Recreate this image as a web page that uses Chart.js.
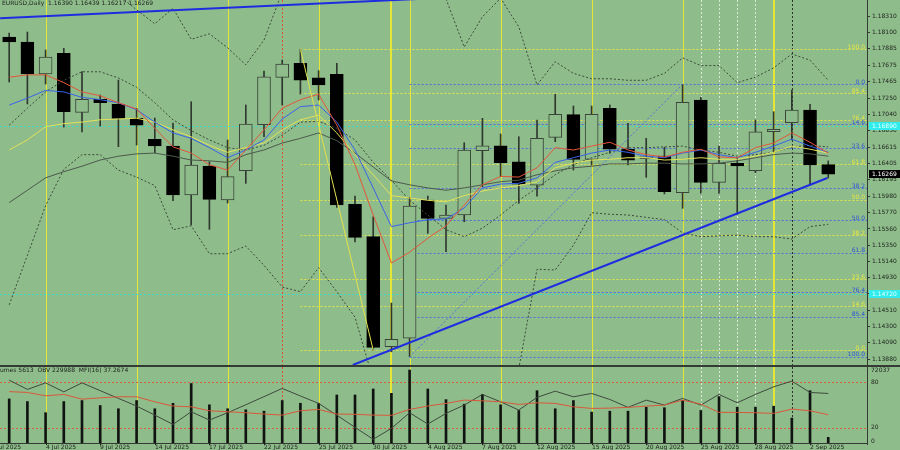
<!DOCTYPE html>
<html>
<head>
<meta charset="utf-8">
<script src="https://cdn.jsdelivr.net/npm/chart.js@4.4.1/dist/chart.umd.min.js"></script>
<style>
  html, body { margin: 0; padding: 0; background: #8fbc8b; overflow: hidden; }
  #wrap { position: relative; width: 900px; height: 450px; }
  #priceBox { position: absolute; left: 0; top: 0; width: 900px; height: 366px; }
  #volBox { position: absolute; left: 0; top: 366px; width: 900px; height: 84px; }
</style>
</head>
<body>
<div id="wrap">
  <div id="priceBox"><canvas id="priceChart"></canvas></div>
  <div id="volBox"><canvas id="volChart"></canvas></div>
</div>
<script>
// ==========================
// DATA (EURUSD daily, 2 Jul - 3 Sep 2025, one entry per bar)
// ==========================
const opens  = [1.18039,1.17974,1.17561,1.17828,1.17066,1.17234,1.17170,1.16989,1.16718,1.16631,1.15998,1.16373,1.15934,1.16312,1.16906,1.17518,1.17699,1.17513,1.17557,1.15878,1.15460,1.14039,1.14148,1.15934,1.15697,1.15740,1.16570,1.16635,1.16428,1.16127,1.16743,1.17036,1.16459,1.17118,1.16589,1.16467,1.16502,1.16028,1.17225,1.16162,1.16408,1.16312,1.16816,1.16932,1.17096,1.16390];
const highs  = [1.18090,1.18103,1.17871,1.17893,1.17591,1.17290,1.17483,1.17118,1.16993,1.16928,1.17203,1.16428,1.16709,1.17161,1.17600,1.17742,1.17880,1.17604,1.17699,1.15985,1.15718,1.14603,1.15969,1.15985,1.15869,1.16674,1.16989,1.16786,1.16751,1.16967,1.17299,1.17148,1.17148,1.17161,1.16925,1.16731,1.16615,1.17428,1.17260,1.16631,1.16473,1.16967,1.17074,1.17355,1.17170,1.16439];
const lows   = [1.17458,1.17174,1.17432,1.16876,1.16812,1.16889,1.16622,1.16644,1.16541,1.15925,1.15611,1.15555,1.15895,1.16149,1.16751,1.17161,1.17303,1.17226,1.15839,1.15391,1.13996,1.13974,1.13910,1.15504,1.15266,1.15653,1.16105,1.16235,1.15891,1.15985,1.16687,1.16321,1.16386,1.16537,1.16386,1.16227,1.16012,1.15827,1.16020,1.16020,1.15749,1.16286,1.16554,1.16709,1.16127,1.16217];
const closes = [1.17974,1.17561,1.17781,1.17074,1.17234,1.17190,1.16989,1.16902,1.16631,1.15998,1.16386,1.15943,1.16235,1.16915,1.17526,1.17690,1.17483,1.17419,1.15869,1.15452,1.14031,1.14135,1.15856,1.15697,1.15740,1.16579,1.16635,1.16415,1.16140,1.16731,1.17040,1.16459,1.17040,1.16589,1.16450,1.16493,1.16041,1.17195,1.16162,1.16408,1.16373,1.16816,1.16847,1.17096,1.16386,1.16269];

// moving averages
const maRed    = [1.1752,1.1755,1.1755,1.1745,1.1733,1.1728,1.1719,1.1711,1.1686,1.1662,1.1654,1.1639,1.1632,1.1658,1.1684,1.1712,1.1723,1.1730,1.1690,1.1639,1.1574,1.1512,1.1526,1.1544,1.1560,1.1587,1.1613,1.1624,1.1623,1.1635,1.1661,1.1658,1.1663,1.1668,1.1658,1.1652,1.1649,1.1655,1.1659,1.1649,1.1648,1.1661,1.1667,1.1680,1.1668,1.1654];
const maBlue   = [1.1716,1.1725,1.1735,1.1733,1.1726,1.1723,1.1719,1.1710,1.1694,1.1680,1.1673,1.1661,1.1648,1.1658,1.1671,1.1698,1.1714,1.1716,1.1694,1.1658,1.1609,1.1559,1.1564,1.1568,1.1569,1.1583,1.1609,1.1614,1.1615,1.1622,1.1642,1.1648,1.1654,1.1658,1.1655,1.1650,1.1648,1.1654,1.1658,1.1652,1.1648,1.1655,1.1663,1.1672,1.1663,1.1655];
const maYellow = [1.1658,1.1671,1.1688,1.1692,1.1694,1.1697,1.1698,1.1699,1.1694,1.1684,1.1675,1.1664,1.1655,1.1661,1.1667,1.1684,1.1697,1.1703,1.1680,1.1652,1.1626,1.1599,1.1596,1.1593,1.1591,1.1599,1.1605,1.1609,1.1612,1.1617,1.1635,1.1641,1.1645,1.1646,1.1648,1.1648,1.1645,1.1646,1.1648,1.1646,1.1646,1.1650,1.1655,1.1663,1.1659,1.1654];
const maGray   = [1.1590,1.1606,1.1622,1.1630,1.1637,1.1645,1.1650,1.1653,1.1654,1.1650,1.1645,1.1644,1.1642,1.1652,1.1658,1.1667,1.1673,1.1680,1.1670,1.1654,1.1636,1.1618,1.1613,1.1609,1.1606,1.1609,1.1613,1.1617,1.1619,1.1626,1.1631,1.1635,1.1637,1.1640,1.1640,1.1641,1.1641,1.1640,1.1640,1.1641,1.1644,1.1648,1.1652,1.1654,1.1653,1.1650];

// bands (dotted)
const bandUpper  = [1.1890,1.1884,1.1878,1.1871,1.1867,1.1865,1.1858,1.1839,1.1821,1.1841,1.1801,1.1808,1.1790,1.1768,1.1800,1.1862,1.1884,1.1897,1.1903,1.1897,1.1890,1.1878,1.1867,1.1859,1.1853,1.1791,1.1830,1.1854,1.1817,1.1742,1.1772,1.1757,1.1750,1.1750,1.1748,1.1748,1.1757,1.1777,1.1767,1.1767,1.1745,1.1752,1.1764,1.1782,1.1774,1.1748];
const bandMiddle = [1.1690,1.1712,1.1733,1.1748,1.1759,1.1759,1.1751,1.1739,1.1719,1.1697,1.1683,1.1671,1.1661,1.1658,1.1664,1.1677,1.1694,1.1695,1.1686,1.1671,1.1642,1.1619,1.1593,1.1574,1.1555,1.1546,1.1557,1.1574,1.1593,1.1609,1.1626,1.1639,1.1648,1.1655,1.1661,1.1661,1.1662,1.1663,1.1658,1.1655,1.1650,1.1652,1.1655,1.1662,1.1664,1.1662];
const bandLower  = [1.1458,1.1522,1.1586,1.1633,1.1652,1.1652,1.1632,1.1623,1.1612,1.1555,1.1560,1.1524,1.1524,1.1534,1.1509,1.1481,1.1475,1.1506,1.1475,1.1442,1.1361,1.1342,1.1329,1.1322,1.1329,1.1348,1.1354,1.1361,1.1376,1.1504,1.1503,1.1535,1.1577,1.1575,1.1574,1.1571,1.1568,1.1551,1.1546,1.1547,1.1548,1.1546,1.1546,1.1543,1.1559,1.1562];

// lower panel
const volumes   = [43500,40900,29900,40900,41900,37000,33800,41900,33800,39200,58700,37700,33800,32800,31400,41900,39200,39200,47400,47400,53300,49000,72037,53300,42800,38300,48000,37700,32100,51600,33800,41900,30500,31400,31400,35300,34800,41900,32100,45800,35300,35300,36300,24600,51600,5613];
const mfiValues = [67.6,66.5,62.1,63.9,57.7,59.4,60.8,60.8,54.2,48.6,47.6,42.4,41.1,39.8,38.1,36.7,42.4,44.2,38.1,37.7,36.7,36.4,44.2,48.6,52.1,56.4,55.5,54.2,50.8,52.9,52.1,47.6,45.5,45.9,46.9,48.6,49.9,56.4,51.2,40.3,40.3,39.8,39.0,44.6,42.4,37.27];
// OBV as drawn, read as % of the panel height
const obvValues = [82.7,70.5,79.1,67.3,79.1,68.9,58.7,48.6,36.7,24.5,41.1,30.2,39.8,50.3,61.0,71.8,61.9,52.1,36.6,20.6,4.9,19.3,39.8,24.9,39.0,49.9,63.9,54.2,43.3,60.0,68.2,60.8,65.2,57.3,46.9,56.4,49.9,58.7,49.9,63.9,52.9,63.9,73.9,81.4,66.5,65.2];

// axis labels
const priceTicks = [1.18310,1.18100,1.17885,1.17675,1.17465,1.17250,1.17040,1.16830,1.16615,1.16405,1.16195,1.15980,1.15770,1.15560,1.15350,1.15140,1.14930,1.14720,1.14510,1.14300,1.14090,1.13880];
const dateTickIdx = [-1,2,5,8,11,14,17,20,23,26,29,32,35,38,41,44];
const dateLabels = ["1 Jul 2025","4 Jul 2025","9 Jul 2025","14 Jul 2025","17 Jul 2025","22 Jul 2025","25 Jul 2025","30 Jul 2025","4 Aug 2025","7 Aug 2025","12 Aug 2025","15 Aug 2025","20 Aug 2025","25 Aug 2025","28 Aug 2025","2 Sep 2025"];

// drawing objects
const fibLevels = [0,14.6,23.6,38.2,50,61.8,76.4,85.4,100];
const yellowFib = { start: 16, end: 20, high: 1.17880, low: 1.13996 };   // 0 at low
const blueFib   = { start: 22, end: 37, high: 1.17430, low: 1.13910 };   // 0 at high
const cyanLevels = [1.16890, 1.14720];
const supportLine = [[18.88, 1.13803], [44.95, 1.16218]];
const upperLine   = [[-0.5, 1.18281], [25, 1.18558]];
const yellowDays = [2,7,12,17,22,27,32,37];
const boldYellowDays = [21,42];
const redDay = 15;
const whiteDays = [38,39,40,41];
const blackDay = 43;

// ==========================
// STYLE / LAYOUT
// ==========================
const BG = "#8fbc8b";
const TXT = "#1c221c";
const FONT = '6px "DejaVu Sans"';
const X_MIN = -0.505, X_MAX = 47.13;
const Y_MIN = 1.13803, Y_MAX = 1.18517;

const pts = (arr) => arr.map((v, i) => ({ x: i, y: v }));
const seg = (a) => a.map((p) => ({ x: p[0], y: p[1] }));
const isBull = (i) => closes[i] >= opens[i];

function drawVerticals(ctx, x, top, bottom) {
  const line = (i, color, w, dash) => {
    const px = Math.round(x.getPixelForValue(i)) + (w % 2 ? 0.5 : 0);
    ctx.strokeStyle = color;
    ctx.lineWidth = w;
    ctx.setLineDash(dash);
    ctx.beginPath();
    ctx.moveTo(px, top);
    ctx.lineTo(px, bottom);
    ctx.stroke();
  };
  yellowDays.forEach((i) => line(i, "#e6e636", 1, []));
  boldYellowDays.forEach((i) => line(i, "#e6e636", 2, []));
  line(redDay, "#e0502a", 1, [2, 2]);
  whiteDays.forEach((i) => line(i, "#dbe9d6", 1, [2, 2]));
  line(blackDay, "#2c342c", 1, [2, 2]);
  ctx.setLineDash([]);
}

function hLine(ctx, x0, x1, py, color) {
  const yy = Math.round(py) + 0.5;
  ctx.strokeStyle = color;
  ctx.lineWidth = 1;
  ctx.setLineDash([2, 2]);
  ctx.beginPath();
  ctx.moveTo(x0, yy);
  ctx.lineTo(x1, yy);
  ctx.stroke();
  ctx.setLineDash([]);
}

const yellowFibPrice = (l) => yellowFib.low + (yellowFib.high - yellowFib.low) * l / 100;
const blueFibPrice = (l) => blueFib.high - (blueFib.high - blueFib.low) * l / 100;

// ==========================
// PRICE PANEL PLUGIN
// ==========================
const priceMarks = {
  id: "priceMarks",
  beforeDatasetsDraw(chart) {
    const { ctx, chartArea: a, scales: { x, y } } = chart;
    ctx.save();
    ctx.beginPath();
    ctx.rect(a.left, a.top, a.right - a.left, a.bottom - a.top);
    ctx.clip();
    drawVerticals(ctx, x, a.top, a.bottom);
    cyanLevels.forEach((p) => hLine(ctx, a.left, a.right, y.getPixelForValue(p), "#3fd9cc"));
    fibLevels.forEach((l) => {
      hLine(ctx, x.getPixelForValue(yellowFib.start), a.right, y.getPixelForValue(yellowFibPrice(l)), "#e3e34c");
      hLine(ctx, x.getPixelForValue(blueFib.start), a.right, y.getPixelForValue(blueFibPrice(l)), "#4f6fdc");
    });
    ctx.restore();
  },
  afterDatasetsDraw(chart) {
    const { ctx, chartArea: a, scales: { y } } = chart;
    ctx.save();
    ctx.font = FONT;
    ctx.textAlign = "right";
    ctx.textBaseline = "middle";
    fibLevels.forEach((l) => {
      ctx.fillStyle = "#e8e840";
      ctx.fillText(l.toFixed(1), a.right - 2, y.getPixelForValue(yellowFibPrice(l)) - 2);
      ctx.fillStyle = "#2f52d6";
      ctx.fillText(l.toFixed(1), a.right - 2, y.getPixelForValue(blueFibPrice(l)) - 2);
    });
    ctx.textAlign = "left";
    ctx.fillStyle = TXT;
    ctx.fillText("EURUSD,Daily  1.16390 1.16439 1.16217 1.16269", 2, 3);
    ctx.restore();
  },
  afterDraw(chart) {
    const { ctx, chartArea: a, scales: { y } } = chart;
    ctx.save();
    ctx.font = FONT;
    ctx.textBaseline = "middle";
    ctx.textAlign = "left";
    const box = (price, fill, color) => {
      const py = y.getPixelForValue(price);
      ctx.fillStyle = fill;
      ctx.fillRect(a.right + 2, Math.round(py) - 4, 33, 8);
      ctx.fillStyle = color;
      ctx.fillText(price.toFixed(5), a.right + 5, py);
    };
    cyanLevels.forEach((p) => box(p, "#30ecec", "#e8ffff"));
    box(closes[closes.length - 1], "#000000", "#ffffff");
    ctx.fillStyle = "#343a34";
    ctx.fillRect(0, 365, 900, 1);
    ctx.restore();
  },
};

// ==========================
// PRICE CHART
// ==========================
const lineSet = (data, color, extra) =>
  Object.assign({ type: "line", data: pts(data), borderColor: color, borderWidth: 1, pointRadius: 0, tension: 0, order: 2 }, extra || {});

new Chart(document.getElementById("priceChart"), {
  type: "bar",
  data: {
    datasets: [
      // trend lines
      { type: "line", data: seg(supportLine), borderColor: "#1e2de0", borderWidth: 2, pointRadius: 0, order: 0 },
      { type: "line", data: seg(upperLine), borderColor: "#1e2de0", borderWidth: 2, pointRadius: 0, order: 0 },
      { type: "line", data: [{ x: yellowFib.start, y: yellowFib.high }, { x: yellowFib.end, y: yellowFib.low }], borderColor: "#e3e34c", borderWidth: 1, pointRadius: 0, order: 0 },
      { type: "line", data: [{ x: blueFib.start, y: blueFib.low }, { x: blueFib.end, y: blueFib.high }], borderColor: "#4f6fdc", borderWidth: 1, borderDash: [2, 2], pointRadius: 0, order: 0 },
      // moving averages
      lineSet(maRed, "#e4553a"),
      lineSet(maBlue, "#3a62e8"),
      lineSet(maYellow, "#e2e25a"),
      lineSet(maGray, "#4c5a4c"),
      // bands
      lineSet(bandUpper, "#3c4a3c", { borderDash: [2, 2], order: 3 }),
      lineSet(bandMiddle, "#3c4a3c", { borderDash: [2, 2], order: 3 }),
      lineSet(bandLower, "#3c4a3c", { borderDash: [2, 2], order: 3 }),
      // candle bodies
      {
        type: "bar",
        data: opens.map((o, i) => ({ x: i, y: [o, closes[i]] })),
        backgroundColor: opens.map((o, i) => (isBull(i) ? BG : "#000000")),
        borderColor: opens.map((o, i) => (isBull(i) ? "#3a443a" : "#000000")),
        borderWidth: 1,
        borderSkipped: false,
        barThickness: 13,
        grouped: false,
        order: 4,
      },
      // wicks
      {
        type: "bar",
        data: lows.map((l, i) => ({ x: i, y: [l, highs[i]] })),
        backgroundColor: "#2f382f",
        barThickness: 1,
        grouped: false,
        order: 5,
      },
    ],
  },
  options: {
    responsive: true,
    maintainAspectRatio: false,
    animation: false,
    events: [],
    layout: { padding: { top: 0, bottom: 1, left: 0, right: 0 } },
    plugins: { legend: { display: false }, tooltip: { enabled: false } },
    scales: {
      x: { type: "linear", min: X_MIN, max: X_MAX, display: false, offset: false },
      y: {
        type: "linear",
        position: "right",
        min: Y_MIN,
        max: Y_MAX,
        afterBuildTicks: (s) => { s.ticks = priceTicks.map((v) => ({ value: v })); },
        afterFit: (s) => { s.width = 33; s.paddingTop = 0; s.paddingBottom = 0; },
        ticks: {
          autoSkip: false,
          padding: 2,
          color: TXT,
          font: { family: "DejaVu Sans", size: 6 },
          callback: (v) => Number(v).toFixed(5),
        },
        grid: { display: true, drawOnChartArea: false, tickLength: 3, color: "#343a34" },
        border: { display: true, color: "#343a34" },
      },
    },
  },
  plugins: [priceMarks],
});

// ==========================
// VOLUME / MFI / OBV PANEL
// ==========================
const lowerMarks = {
  id: "lowerMarks",
  beforeDatasetsDraw(chart) {
    const { ctx, chartArea: a, scales: { x, mfi } } = chart;
    ctx.save();
    ctx.beginPath();
    ctx.rect(a.left, a.top, a.right - a.left, a.bottom - a.top);
    ctx.clip();
    drawVerticals(ctx, x, a.top, a.bottom);
    [80, 20].forEach((v) => hLine(ctx, a.left, a.right, mfi.getPixelForValue(v), "#d8603e"));
    ctx.restore();
  },
  afterDraw(chart) {
    const { ctx, chartArea: a, scales: { x, mfi, vol } } = chart;
    ctx.save();
    ctx.fillStyle = "#343a34";
    ctx.fillRect(0, 0, 900, 1);
    ctx.fillRect(Math.round(a.right), 0, 1, a.bottom + 2);
    ctx.fillRect(0, Math.round(a.bottom), a.right, 1);
    ctx.font = FONT;
    ctx.fillStyle = TXT;
    ctx.textBaseline = "middle";
    ctx.textAlign = "left";
    ctx.fillText("Volumes 5613  OBV 229988  MFI(16) 37.2674", -9, 4);
    ctx.fillText("72037", a.right + 4, vol.getPixelForValue(72037));
    ctx.fillText("80", a.right + 4, mfi.getPixelForValue(80));
    ctx.fillText("20", a.right + 4, mfi.getPixelForValue(20));
    ctx.fillText("0", a.right + 4, mfi.getPixelForValue(0) - 2);
    ctx.textBaseline = "top";
    dateTickIdx.forEach((idx, k) => {
      const px = Math.round(x.getPixelForValue(idx));
      ctx.fillRect(px, a.bottom, 1, 2);
      ctx.fillText(dateLabels[k], px, a.bottom + 1);
    });
    ctx.restore();
  },
};

new Chart(document.getElementById("volChart"), {
  type: "bar",
  data: {
    datasets: [
      { type: "line", data: pts(mfiValues), yAxisID: "mfi", borderColor: "#d9583a", borderWidth: 1, pointRadius: 0, order: 0 },
      { type: "line", data: pts(obvValues), yAxisID: "mfi", borderColor: "#3e4a3e", borderWidth: 1, pointRadius: 0, order: 1 },
      { type: "bar", data: pts(volumes), yAxisID: "vol", backgroundColor: "#101410", barThickness: 2, grouped: false, order: 2 },
    ],
  },
  options: {
    responsive: true,
    maintainAspectRatio: false,
    animation: false,
    events: [],
    layout: { padding: { top: 1, bottom: 7, left: 0, right: 33 } },
    plugins: { legend: { display: false }, tooltip: { enabled: false } },
    scales: {
      x: { type: "linear", min: X_MIN, max: X_MAX, display: false, offset: false },
      vol: { type: "linear", position: "right", min: 0, max: 75000, display: false },
      mfi: { type: "linear", position: "right", min: 0, max: 100, display: false },
    },
  },
  plugins: [lowerMarks],
});
</script>
</body>
</html>
